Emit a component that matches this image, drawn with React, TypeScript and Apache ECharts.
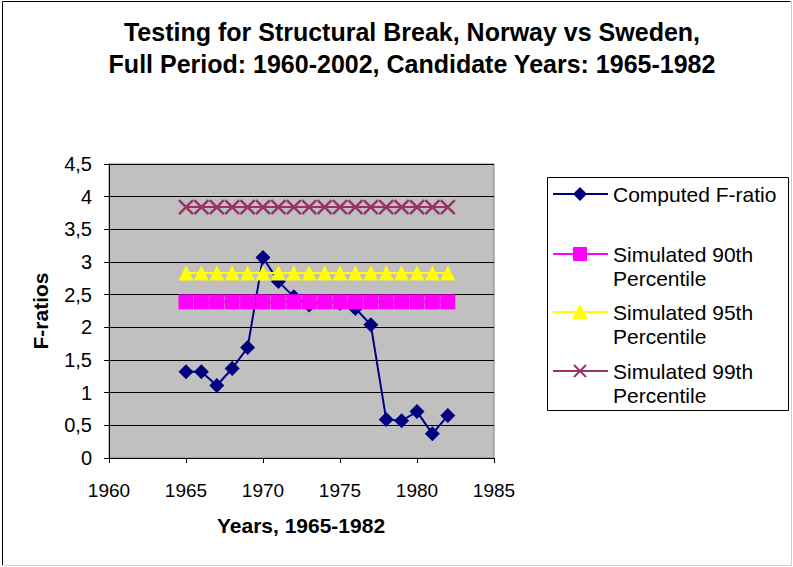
import React, { useEffect, useRef } from "react";
import * as echarts from "echarts";

const years = [1965, 1966, 1967, 1968, 1969, 1970, 1971, 1972, 1973, 1974, 1975, 1976, 1977, 1978, 1979, 1980, 1981, 1982];
const computedF = [1.32, 1.32, 1.11, 1.37, 1.69, 3.07, 2.7, 2.47, 2.34, 2.39, 2.37, 2.29, 2.04, 0.59, 0.57, 0.71, 0.37, 0.65];
const sim90 = [2.39, 2.39, 2.39, 2.39, 2.39, 2.39, 2.39, 2.39, 2.39, 2.39, 2.39, 2.39, 2.39, 2.39, 2.39, 2.39, 2.39, 2.39];
const sim95 = [2.83, 2.83, 2.83, 2.83, 2.83, 2.83, 2.83, 2.83, 2.83, 2.83, 2.83, 2.83, 2.83, 2.83, 2.83, 2.83, 2.83, 2.83];
const sim99 = [3.84, 3.84, 3.84, 3.84, 3.84, 3.84, 3.84, 3.84, 3.84, 3.84, 3.84, 3.84, 3.84, 3.84, 3.84, 3.84, 3.84, 3.84];
const seriesNames = ["Computed F-ratio", "Simulated 90th\nPercentile", "Simulated 95th\nPercentile", "Simulated 99th\nPercentile"];

const FONT = "Arial, 'Liberation Sans', sans-serif";
const pair = (v: number[]) => years.map((y, i) => [y, v[i]]);

function legendText(text: string, x: number, y: number) {
  return {
    type: "text",
    style: {
      text,
      x,
      y,
      fill: "#000",
      font: `21px ${FONT}`,
      lineHeight: 24,
      align: "left",
      verticalAlign: "top",
      textAlign: "left",
      textVerticalAlign: "top",
    },
  };
}

export default function App() {
  const ref = useRef<HTMLDivElement>(null);
  useEffect(() => {
    if (!ref.current) return;
    const chart = echarts.init(ref.current, null, { renderer: "svg" });
    const xMark = "path://M0,0L10,10M10,0L0,10";
    chart.setOption({
      animation: false,
      backgroundColor: "#fff",
      title: {
        text: "Testing for Structural Break, Norway vs Sweden,\nFull Period: 1960-2002, Candidate Years: 1965-1982",
        left: 407,
        top: 11,
        textAlign: "center",
        textStyle: { fontFamily: FONT, fontSize: 25, fontWeight: "bold", color: "#000", lineHeight: 32 },
      },
      grid: {
        left: 109,
        top: 164,
        width: 385,
        height: 294,
        show: true,
        backgroundColor: "#C0C0C0",
        borderColor: "#808080",
        borderWidth: 1,
      },
      xAxis: {
        type: "value",
        min: 1960,
        max: 1985,
        interval: 5,
        axisLine: { show: true, lineStyle: { color: "#000", width: 1 } },
        axisTick: { show: true, length: 5, lineStyle: { color: "#000" } },
        axisLabel: { color: "#000", fontFamily: FONT, fontSize: 19, margin: 23, formatter: (v: number) => String(v) },
        splitLine: { show: false },
      },
      yAxis: {
        type: "value",
        min: 0,
        max: 4.5,
        interval: 0.5,
        axisLine: { show: true, lineStyle: { color: "#000", width: 1 } },
        axisTick: { show: true, length: 5, lineStyle: { color: "#000" } },
        axisLabel: {
          color: "#000",
          fontFamily: FONT,
          fontSize: 20,
          margin: 17,
          formatter: (v: number) => String(v).replace(".", ","),
        },
        splitLine: { show: true, lineStyle: { color: "#000", width: 1 } },
      },
      series: [
        {
          name: seriesNames[0],
          type: "line",
          data: pair(computedF),
          symbol: "diamond",
          symbolSize: 15,
          lineStyle: { color: "#000080", width: 2 },
          itemStyle: { color: "#000080" },
        },
        {
          name: seriesNames[1],
          type: "line",
          data: pair(sim90),
          symbol: "rect",
          symbolSize: 15,
          lineStyle: { color: "#FF00FF", width: 2 },
          itemStyle: { color: "#FF00FF" },
        },
        {
          name: seriesNames[2],
          type: "line",
          data: pair(sim95),
          symbol: "triangle",
          symbolSize: 15,
          lineStyle: { color: "#FFFF00", width: 2 },
          itemStyle: { color: "#FFFF00" },
        },
        {
          name: seriesNames[3],
          type: "line",
          data: pair(sim99),
          symbol: xMark,
          symbolSize: 14,
          lineStyle: { color: "#993366", width: 2 },
          itemStyle: { color: "#993366", borderColor: "#993366", borderWidth: 2.5 },
        },
      ],
      graphic: [
        { type: "line", shape: { x1: 2.5, y1: 1.5, x2: 790.5, y2: 1.5 }, style: { stroke: "#000", lineWidth: 1 } },
        { type: "line", shape: { x1: 2.5, y1: 1.5, x2: 2.5, y2: 566 }, style: { stroke: "#000", lineWidth: 1 } },
        { type: "line", shape: { x1: 791.5, y1: 1, x2: 791.5, y2: 566 }, style: { stroke: "#d0d0d0", lineWidth: 1 } },
        { type: "line", shape: { x1: 2, y1: 565.5, x2: 792, y2: 565.5 }, style: { stroke: "#d0d0d0", lineWidth: 1 } },
        {
          type: "text",
          x: 40,
          y: 311,
          rotation: Math.PI / 2,
          style: {
            text: "F-ratios",
            fill: "#000",
            font: `bold 21px ${FONT}`,
            align: "center",
            verticalAlign: "middle",
            textAlign: "center",
            textVerticalAlign: "middle",
          },
        },
        {
          type: "text",
          style: {
            text: "Years, 1965-1982",
            x: 301,
            y: 525,
            fill: "#000",
            font: `bold 21px ${FONT}`,
            align: "center",
            verticalAlign: "middle",
            textAlign: "center",
            textVerticalAlign: "middle",
          },
        },
        {
          type: "rect",
          shape: { x: 547.5, y: 177.5, width: 241, height: 233 },
          style: { fill: "#fff", stroke: "#000", lineWidth: 1 },
        },
        // entry 1
        { type: "line", shape: { x1: 553, y1: 194, x2: 608, y2: 194 }, style: { stroke: "#000080", lineWidth: 2 } },
        { type: "polygon", shape: { points: [[580, 187], [587, 194], [580, 201], [573, 194]] }, style: { fill: "#000080" } },
        legendText("Computed F-ratio", 613, 182),
        // entry 2
        { type: "line", shape: { x1: 553, y1: 254, x2: 608, y2: 254 }, style: { stroke: "#FF00FF", lineWidth: 2 } },
        { type: "rect", shape: { x: 573, y: 247, width: 14, height: 14 }, style: { fill: "#FF00FF" } },
        legendText("Simulated 90th\nPercentile", 613, 242),
        // entry 3
        { type: "line", shape: { x1: 553, y1: 312, x2: 608, y2: 312 }, style: { stroke: "#FFFF00", lineWidth: 2 } },
        { type: "polygon", shape: { points: [[580, 304], [588, 319], [572, 319]] }, style: { fill: "#FFFF00" } },
        legendText("Simulated 95th\nPercentile", 613, 300),
        // entry 4
        { type: "line", shape: { x1: 553, y1: 371, x2: 608, y2: 371 }, style: { stroke: "#993366", lineWidth: 2 } },
        { type: "line", shape: { x1: 574, y1: 365, x2: 586, y2: 377 }, style: { stroke: "#993366", lineWidth: 2 } },
        { type: "line", shape: { x1: 586, y1: 365, x2: 574, y2: 377 }, style: { stroke: "#993366", lineWidth: 2 } },
        legendText("Simulated 99th\nPercentile", 613, 359),
      ],
    });
    return () => chart.dispose();
  }, []);
  return (
    <div
      ref={ref}
      style={{ position: "absolute", left: 0, top: 0, width: 793, height: 567, background: "#fff" }}
    />
  );
}
